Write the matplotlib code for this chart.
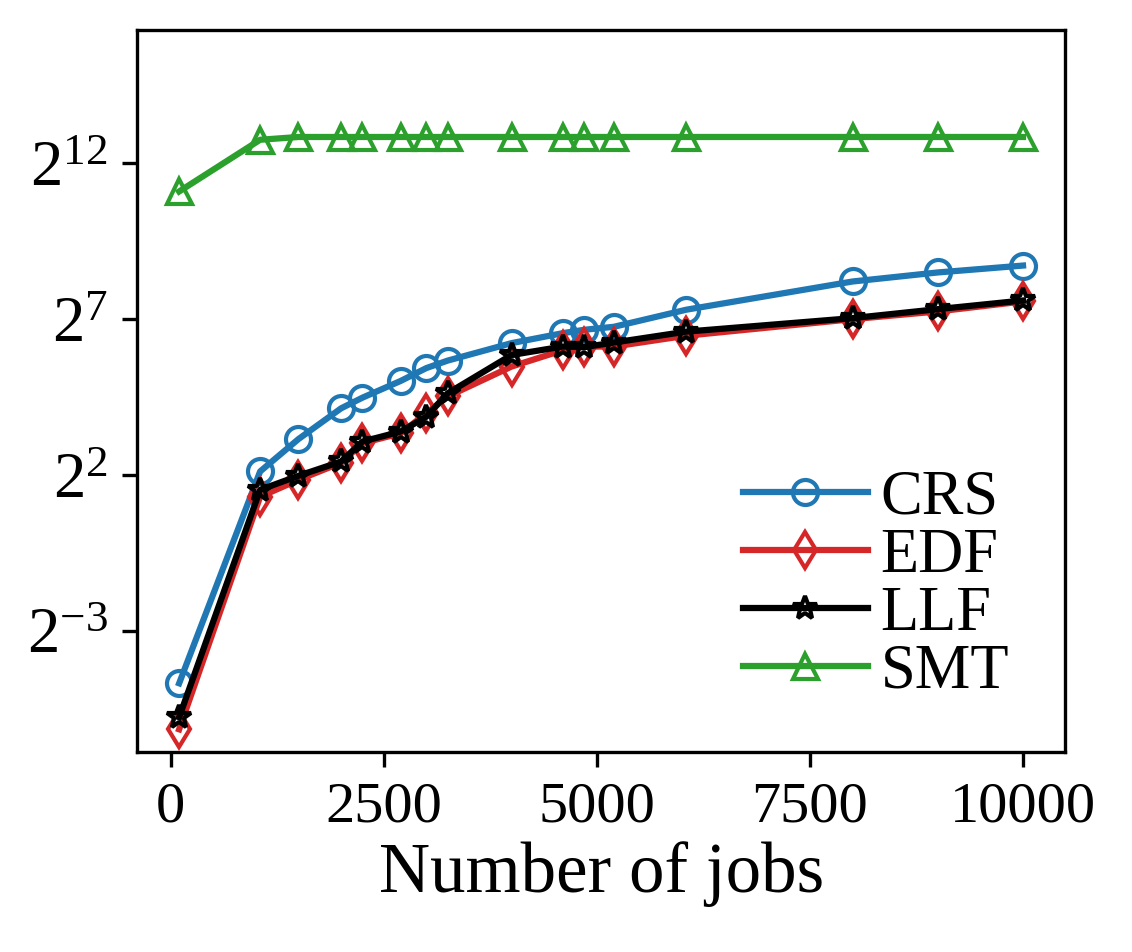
import matplotlib
matplotlib.use("Agg")
import matplotlib.pyplot as plt
from matplotlib.ticker import LogFormatterMathtext, FixedLocator, NullLocator

plt.rcParams['font.family'] = ['Liberation Serif', 'DejaVu Serif']
plt.rcParams['mathtext.fontset'] = 'custom'
plt.rcParams['mathtext.rm'] = 'Liberation Serif'
plt.rcParams['mathtext.it'] = 'Liberation Serif:italic'
plt.rcParams['mathtext.bf'] = 'Liberation Serif:bold'

# Number of jobs
jobs = [100, 1050, 1500, 2000, 2250, 2700, 3000, 3250, 4000,
        4600, 4850, 5200, 6050, 8000, 9000, 10000]

# values (log2 scale)
crs = [0.0387, 4.32, 8.88, 17.6, 22.3, 32.4, 43.1, 50.9, 75.1,
       93.7, 101, 108, 158, 296, 362, 422]
edf = [0.0139, 2.46, 3.58, 5.24, 8.11, 10.1, 15.8, 22.9, 44.6,
       64.0, 69.6, 69.6, 88.6, 128, 152, 190]
llf = [0.0182, 2.87, 3.92, 5.39, 8.40, 10.5, 14.6, 24.6, 57.7,
       69.6, 68.6, 76.1, 97, 131, 160, 194]
smt = [2195, 6936, 7380, 7380, 7380, 7380, 7380, 7380, 7380,
       7380, 7380, 7380, 7380, 7380, 7380, 7380]

yticks = [2**-3, 2**2, 2**7, 2**12]

fig = plt.figure(figsize=(1132/300, 952/300), dpi=300)
ax = fig.add_axes([0.121, 0.210, 0.820, 0.759])

ax.plot(jobs, crs, color='tab:blue', marker='o', mfc='none', label='CRS')
ax.plot(jobs, edf, color='tab:red', marker='d', mfc='none', label='EDF')
ax.plot(jobs, llf, color='black', marker='*', mfc='none', label='LLF')
ax.plot(jobs, smt, color='tab:green', marker='^', mfc='none', label='SMT')

ax.set_yscale('log', base=2)
ax.yaxis.set_major_locator(FixedLocator(yticks))
ax.yaxis.set_major_formatter(LogFormatterMathtext(base=2))
ax.yaxis.set_minor_locator(NullLocator())
ax.set_ylim(2**-6.9, 2**16.3)
ax.set_xticks([0, 2500, 5000, 7500, 10000])

ax.tick_params(axis='x', labelsize=14)
ax.tick_params(axis='y', labelsize=15.5)
ax.set_xlabel('Number of jobs', fontsize=17, labelpad=2)

ax.legend(loc='lower right', frameon=False, fontsize=15,
          labelspacing=0.0, handletextpad=0.2,
          bbox_to_anchor=(1.0, -0.008))

fig.savefig('out.png', dpi=300)
